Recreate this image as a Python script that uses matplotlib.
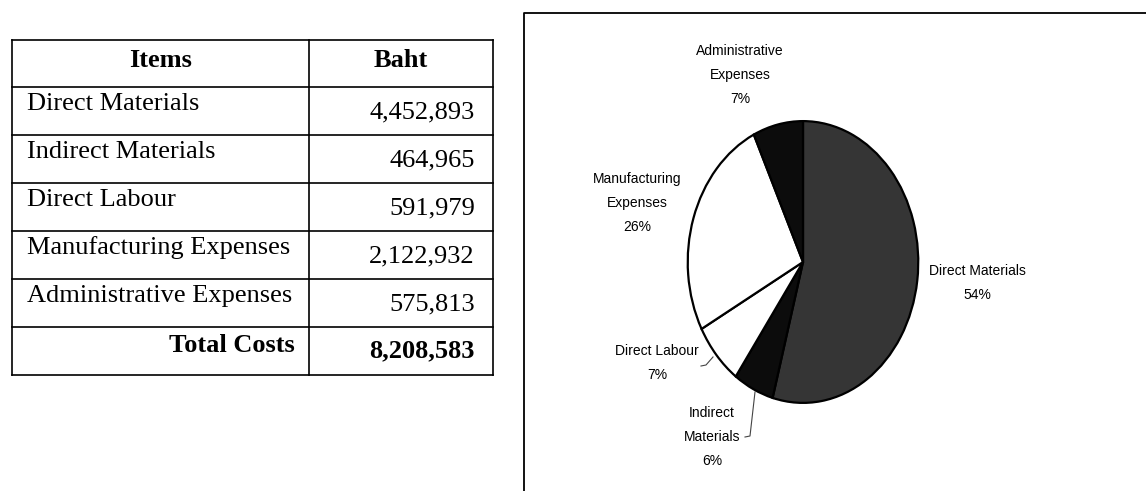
import matplotlib
matplotlib.use("Agg")
import matplotlib.pyplot as plt

items = ["Direct Materials", "Indirect Materials", "Direct Labour",
         "Manufacturing Expenses", "Administrative Expenses"]
baht = [4452893, 464965, 591979, 2122932, 575813]
total_costs = 8208583  # as printed in the source table
pie_labels = ["Direct Materials", "Indirect\nMaterials", "Direct Labour",
              "Manufacturing\nExpenses", "Administrative\nExpenses"]

W, H = 1146, 491
fig = plt.figure(figsize=(W / 100, H / 100), dpi=100)
fig.patch.set_facecolor("white")

# overlay in pixel coords for table, frame and labels
ov = fig.add_axes([0, 0, 1, 1])
ov.set_xlim(0, W)
ov.set_ylim(H, 0)
ov.axis("off")
ov.patch.set_visible(False)

# ---- table ----
serif = "Liberation Serif"
x0, xm, x1 = 12, 309, 493
top, head_h, row_h = 40, 47, 48
n = len(items)
ys = [top, top + head_h] + [top + head_h + row_h * (i + 1) for i in range(n + 1)]
for y in ys:
    ov.plot([x0, x1], [y, y], color="black", lw=1.2)
for x in (x0, xm, x1):
    ov.plot([x, x], [ys[0], ys[-1]], color="black", lw=1.2)

fs = 19
ov.text((x0 + xm) / 2, top + head_h / 2 - 3, "Items", ha="center", va="center",
        family=serif, fontsize=fs, fontweight="bold")
ov.text((xm + x1) / 2, top + head_h / 2 - 3, "Baht", ha="center", va="center",
        family=serif, fontsize=fs, fontweight="bold")
for i, (name, val) in enumerate(zip(items, baht)):
    ya = ys[i + 1]
    ov.text(x0 + 15, ya + row_h / 2 - 7, name, ha="left", va="center",
            family=serif, fontsize=fs)
    ov.text(x1 - 18, ya + row_h / 2 + 1, f"{val:,}", ha="right", va="center",
            family=serif, fontsize=fs)
ya = ys[n + 1]
ov.text(xm - 14, ya + row_h / 2 - 6, "Total Costs", ha="right", va="center",
        family=serif, fontsize=fs, fontweight="bold")
ov.text(x1 - 18, ya + row_h / 2, f"{total_costs:,}", ha="right", va="center",
        family=serif, fontsize=fs, fontweight="bold")

# ---- chart frame ----
ov.plot([524, 524, W + 5], [H + 5, 13, 13], color="black", lw=1.3)

# ---- pie (elliptical, like the scanned Excel chart) ----
cx, cy, rx, ry = 803, 262, 117, 143
pax = fig.add_axes([(cx - rx) / W, 1 - (cy + ry) / H, 2 * rx / W, 2 * ry / H])
colors = ["#353535", "#0c0c0c", "white", "white", "#0c0c0c"]
pax.pie(baht, startangle=90, counterclock=False, colors=colors,
        wedgeprops=dict(edgecolor="black", linewidth=1.6))
pax.set_aspect("auto")
pax.set_xlim(-1.015, 1.015)
pax.set_ylim(-1.015, 1.015)

sans = "Liberation Sans"
label_pos = [(977, 283), (712, 437), (657, 363), (637, 203), (740, 75)]
for lab, val, (lx, ly) in zip(pie_labels, baht, label_pos):
    ov.text(lx, ly, f"{lab}\n{round(100 * val / total_costs)}%", ha="center",
            va="center", family=sans, fontsize=10, linespacing=1.9,
            color="black")

# leader lines
ov.plot([701, 706, 713], [366, 365, 357], color="#444444", lw=0.8)
ov.plot([745, 750, 755], [437, 436, 392], color="#444444", lw=0.8)

fig.savefig("out.png", dpi=100)
